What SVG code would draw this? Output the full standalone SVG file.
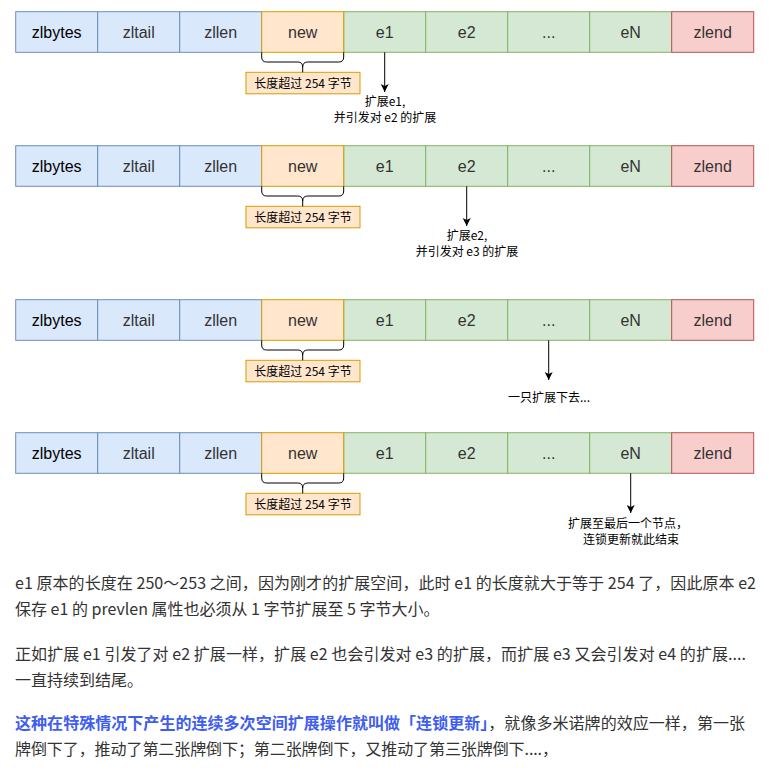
<svg xmlns="http://www.w3.org/2000/svg" width="778" height="771" viewBox="0 0 778 771">
<defs>
<style>
.cell{stroke-width:1}
.blue{fill:#dae8fc;stroke:#6c8ebf}
.orange{fill:#ffe6cc;stroke:#d79b00}
.green{fill:#d5e8d4;stroke:#82b366}
.red{fill:#f8cecc;stroke:#b85450}
.ct{font-family:"Liberation Sans",Arial,sans-serif;font-size:16px;fill:#333;text-anchor:middle}
.ct0{fill:#000}
.lbl{font-family:"Noto Sans CJK SC",sans-serif;font-size:12px;fill:#000;text-anchor:middle}
.brace{fill:none;stroke:#000;stroke-width:1}
.arr{fill:none;stroke:#000;stroke-width:1}
.para{font-family:"Noto Sans CJK SC",sans-serif;font-size:16px;fill:#333}
.hl{fill:#3f5ef0;font-weight:bold}
</style>
<marker id="ah" markerWidth="10" markerHeight="10" refX="8" refY="5" orient="auto" markerUnits="userSpaceOnUse">
<path d="M0,1 L8,5 L0,9 L2,5 Z" fill="#000"/>
</marker>
<g id="rowcells">
<g><rect class="cell blue" x="15.7" y="11.7" width="82" height="40.6"/><text class="ct ct0" x="56.7" y="38">zlbytes</text></g>
<g><rect class="cell blue" x="97.7" y="11.7" width="82" height="40.6"/><text class="ct" x="138.7" y="38">zltail</text></g>
<g><rect class="cell blue" x="179.7" y="11.7" width="82" height="40.6"/><text class="ct" x="220.7" y="38">zllen</text></g>
<g><rect class="cell green" x="343.7" y="11.7" width="82" height="40.6"/><text class="ct" x="384.7" y="38">e1</text></g>
<g><rect class="cell green" x="425.7" y="11.7" width="82" height="40.6"/><text class="ct" x="466.7" y="38">e2</text></g>
<g><rect class="cell green" x="507.7" y="11.7" width="82" height="40.6"/><text class="ct" x="548.7" y="38">...</text></g>
<g><rect class="cell green" x="589.7" y="11.7" width="82" height="40.6"/><text class="ct" x="630.7" y="38">eN</text></g>
<g><rect class="cell red" x="671.7" y="11.7" width="82" height="40.6"/><text class="ct" x="712.7" y="38">zlend</text></g>
<g><rect class="cell orange" x="261.7" y="11.7" width="82" height="40.6"/><text class="ct" x="302.7" y="38">new</text></g>
</g>
<g id="note">
<rect class="orange" x="246" y="72.3" width="114" height="21.5"/>
<text class="lbl" x="303" y="87.5">长度超过 254 字节</text>
</g>
<path id="br" class="brace" d="M261.7,52.3 V57 Q261.7,62 266.7,62 H297.7 Q302.7,62 302.7,67 V72.3 M343.7,52.3 V57 Q343.7,62 338.7,62 H307.7 Q302.7,62 302.7,67"/>
</defs>

<g id="row1"><use href="#rowcells"/><use href="#note"/></g>
<g id="row2" transform="translate(0,134)"><use href="#rowcells"/><use href="#note"/></g>
<g id="row3" transform="translate(0,288)"><use href="#rowcells"/><use href="#note"/></g>
<g id="row4" transform="translate(0,421)"><use href="#rowcells"/><use href="#note"/></g>

<g id="connectors">
<use href="#br"/>
<use href="#br" transform="translate(0,134)"/>
<use href="#br" transform="translate(0,288)"/>
<use href="#br" transform="translate(0,421)"/>
<line class="arr" x1="384.7" y1="52.3" x2="384.7" y2="92" marker-end="url(#ah)"/>
<line class="arr" x1="466.7" y1="186.3" x2="466.7" y2="226" marker-end="url(#ah)"/>
<line class="arr" x1="548.7" y1="340.3" x2="548.7" y2="380" marker-end="url(#ah)"/>
<line class="arr" x1="630.7" y1="473.3" x2="630.7" y2="513" marker-end="url(#ah)"/>
</g>

<g id="labels">
<text class="lbl" x="385" y="105.5">扩展e1,</text>
<text class="lbl" x="385" y="121.5">并引发对 e2 的扩展</text>
<text class="lbl" x="467" y="240">扩展e2,</text>
<text class="lbl" x="467" y="256">并引发对 e3 的扩展</text>
<text class="lbl" x="549" y="402">一只扩展下去...</text>
<text class="lbl" x="628" y="528">扩展至最后一个节点，</text>
<text class="lbl" x="631" y="544">连锁更新就此结束</text>
</g>

<g id="body">
<text class="para" x="15" y="589" textLength="741">e1 原本的长度在 250～253 之间，因为刚才的扩展空间，此时 e1 的长度就大于等于 254 了，因此原本 e2</text>
<text class="para" x="15" y="615">保存 e1 的 prevlen 属性也必须从 1 字节扩展至 5 字节大小。</text>
<text class="para" x="15" y="660" textLength="731">正如扩展 e1 引发了对 e2 扩展一样，扩展 e2 也会引发对 e3 的扩展，而扩展 e3 又会引发对 e4 的扩展....</text>
<text class="para" x="15" y="686">一直持续到结尾。</text>
<text class="para" x="15" y="729" textLength="730"><tspan class="hl">这种在特殊情况下产生的连续多次空间扩展操作就叫做「连锁更新」</tspan>，就像多米诺牌的效应一样，第一张</text>
<text class="para" x="15" y="755" textLength="543">牌倒下了，推动了第二张牌倒下；第二张牌倒下，又推动了第三张牌倒下....，</text>
</g>
</svg>
